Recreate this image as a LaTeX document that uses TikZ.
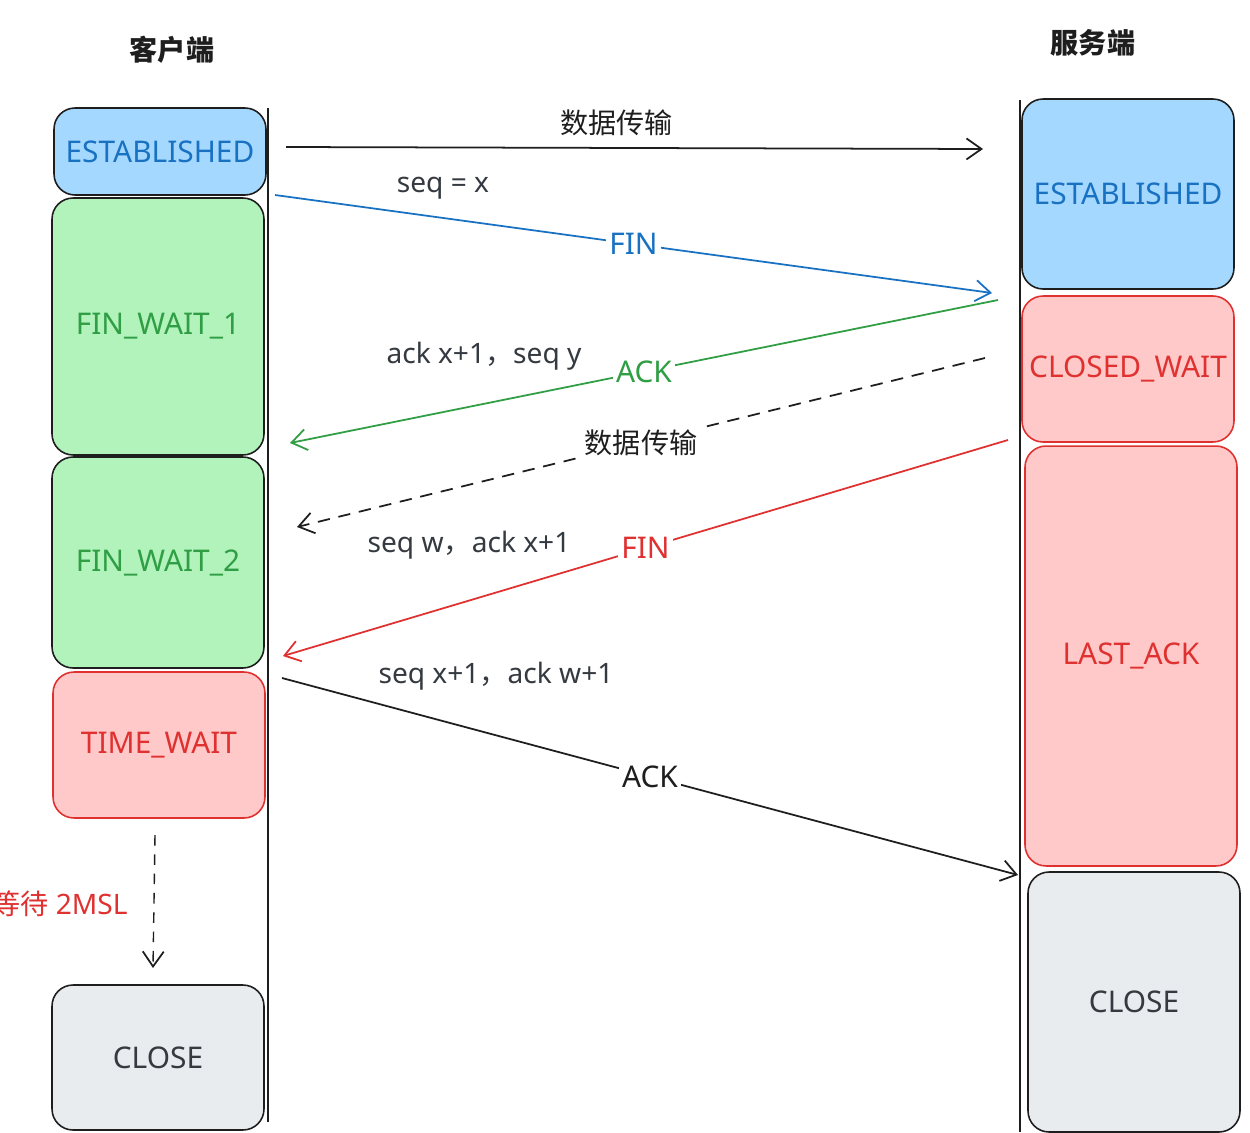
\documentclass[tikz,border=0pt]{standalone}
\usepackage{fontspec}
\setmainfont{Noto Sans}
\newfontfamily\cjk{Noto Sans CJK SC}
\usetikzlibrary{arrows.meta}
\definecolor{ink}{HTML}{1E1E1E}
\definecolor{bfill}{HTML}{A5D8FF}
\definecolor{bink}{HTML}{1971C2}
\definecolor{gfill}{HTML}{B2F2BB}
\definecolor{gink}{HTML}{2F9E44}
\definecolor{rfill}{HTML}{FFC9C9}
\definecolor{rink}{HTML}{E03131}
\definecolor{kfill}{HTML}{E9ECEF}
\definecolor{kink}{HTML}{343A40}
\tikzset{
  x=0.02cm, y=-0.02cm,
  statebox/.style={rounded corners=0.42cm, line width=0.9pt, minimum width=4.24cm,
    inner sep=0pt, font=\fontsize{17}{20}\selectfont},
  bluebox/.style={statebox, draw=ink, fill=bfill, text=bink},
  greenbox/.style={statebox, draw=ink, fill=gfill, text=gink},
  redbox/.style={statebox, draw=rink, fill=rfill, text=rink},
  greybox/.style={statebox, draw=ink, fill=kfill, text=kink},
  msg/.style={line width=1pt, -{Straight Barb[length=0.3cm,width=0.42cm,line width=1pt]}},
  onlabel/.style={fill=white, inner sep=2pt, font=\fontsize{17}{20}\selectfont},
  sidelabel/.style={text=kink, font=\fontsize{16}{19}\selectfont},
  titlelabel/.style={text=ink, font=\cjk\fontsize{16}{19}\selectfont\bfseries},
  lifeline/.style={draw=ink, line width=1pt}
}
\begin{document}
\begin{tikzpicture}
\useasboundingbox (0,0) rectangle (1250,1132);
\fill[white] (0,0) rectangle (1250,1132);

% titles
\node[titlelabel] (tc) at (172,50) {客户端};
\node[titlelabel] (ts) at (1093,43) {服务端};

% lifelines
\coordinate (lc1) at (268,108);
\coordinate (lc2) at (268,1122);
\coordinate (ls1) at (1020,100);
\coordinate (ls2) at (1020,1132);
\draw[lifeline] (lc1) -- (lc2);
\draw[lifeline] (ls1) -- (ls2);

% client states
\node[bluebox, minimum height=1.74cm] (cE) at (160,151.5) {ESTABLISHED};
\node[greenbox, minimum height=5.14cm] (cF1) at (158,326.5) {FIN\_WAIT\_1};
\node[greenbox, minimum height=4.22cm] (cF2) at (158,562.5) {FIN\_WAIT\_2};
\node[redbox, minimum height=2.92cm] (cTW) at (159,745) {TIME\_WAIT};
\node[greybox, minimum height=2.90cm] (cCL) at (158,1057.5) {CLOSE};

% server states
\node[bluebox, minimum height=3.80cm] (sE) at (1128,194) {ESTABLISHED};
\node[redbox, minimum height=2.92cm] (sCW) at (1128,369) {CLOSED\_WAIT};
\node[redbox, minimum height=8.40cm] (sLA) at (1131,656) {LAST\_ACK};
\node[greybox, minimum height=5.20cm] (sCL) at (1134,1002) {CLOSE};

% message end points
\coordinate (d1a) at (286,147);   \coordinate (d1b) at (983,149);
\coordinate (f1a) at (275,195);   \coordinate (f1b) at (992,293);
\coordinate (a1a) at (998,300);   \coordinate (a1b) at (290,443);
\coordinate (d2a) at (985,358);   \coordinate (d2b) at (297,527);
\coordinate (f2a) at (1008,440);  \coordinate (f2b) at (283,656);
\coordinate (a2a) at (282,678);   \coordinate (a2b) at (1018,875);
\coordinate (w1) at (155,835);    \coordinate (w2) at (153,968);

% messages
\draw[msg, draw=ink] (d1a) -- node[pos=0.474, above=3pt, text=ink, font=\cjk\fontsize{16}{19}\selectfont] (ld1) {数据传输} (d1b);
\draw[msg, draw=bink] (f1a) -- node[onlabel, text=bink] (lf1) {FIN} (f1b);
\draw[msg, draw=gink] (a1a) -- node[onlabel, text=gink] (la1) {ACK} (a1b);
\draw[msg, draw=ink, dashed, dash pattern=on 7pt off 5pt] (d2a) -- node[onlabel, text=ink, font=\cjk\fontsize{16}{19}\selectfont] (ld2) {数据传输} (d2b);
\draw[msg, draw=rink] (f2a) -- node[onlabel, text=rink] (lf2) {FIN} (f2b);
\draw[msg, draw=ink] (a2a) -- node[onlabel, text=ink] (la2) {ACK} (a2b);
\draw[msg, draw=ink, line width=0.8pt, dashed, dash pattern=on 6pt off 5pt] (w1) -- (w2);

% side labels
\node[sidelabel] (s1) at (443,188) {seq = x};
\node[sidelabel] (s2) at (484,356) {ack x+1{\cjk ，}seq y};
\node[sidelabel] (s3) at (469,545) {seq w{\cjk ，}ack x+1};
\node[sidelabel] (s4) at (496,676) {seq x+1{\cjk ，}ack w+1};
\node[anchor=east, text=rink, inner sep=0pt, font=\fontsize{16}{19}\selectfont] (wt) at (128,904) {{\cjk 等待} 2MSL};
\end{tikzpicture}
\end{document}
